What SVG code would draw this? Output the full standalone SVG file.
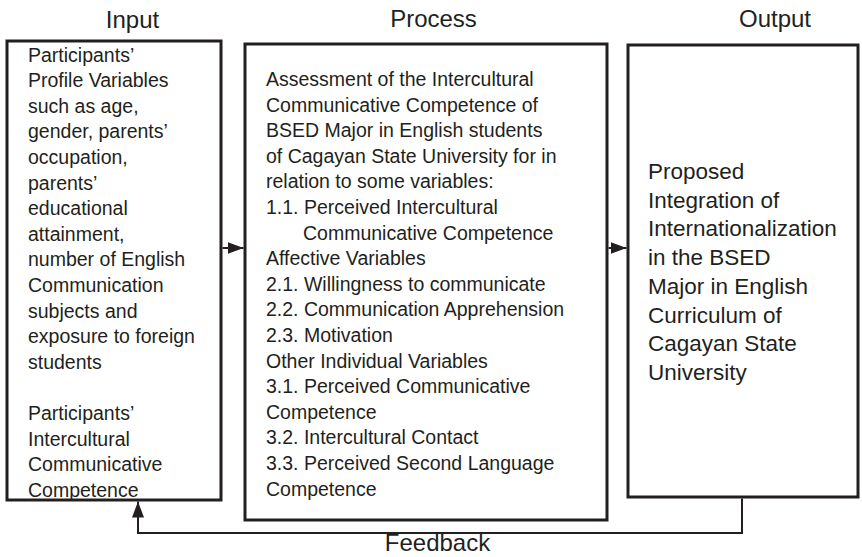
<svg xmlns="http://www.w3.org/2000/svg" width="862" height="557" viewBox="0 0 862 557">
<style>
.box{fill:#fff;stroke:#231f20;stroke-width:3}
.t{font-family:"Liberation Sans",Arial,sans-serif;font-size:19.5px;fill:#231f20}
.o{font-family:"Liberation Sans",Arial,sans-serif;font-size:22.5px;fill:#231f20}
.h{font-family:"Liberation Sans",Arial,sans-serif;font-size:24px;fill:#231f20;text-anchor:middle}
.c{fill:none;stroke:#231f20;stroke-width:2}
</style>
<defs>
<marker id="ah" viewBox="0 0 16 12" refX="16" refY="6" markerWidth="16" markerHeight="12" markerUnits="userSpaceOnUse" orient="auto">
<path d="M0,0 L16,6 L0,12 z" fill="#231f20"/>
</marker>
</defs>
<rect width="862" height="557" fill="#fff"/>
<text class="h" x="132.5" y="28">Input</text>
<text class="h" x="433.5" y="27">Process</text>
<text class="h" x="775" y="27">Output</text>
<text class="h" x="437.5" y="551">Feedback</text>
<g id="input">
<rect class="box" x="7" y="41" width="214" height="459"/>
<text class="t" x="28" y="61.5">Participants’</text>
<text class="t" x="28" y="87.1">Profile Variables</text>
<text class="t" x="28" y="112.7">such as age,</text>
<text class="t" x="28" y="138.3">gender, parents’</text>
<text class="t" x="28" y="163.9">occupation,</text>
<text class="t" x="28" y="189.5">parents’</text>
<text class="t" x="28" y="215.1">educational</text>
<text class="t" x="28" y="240.7">attainment,</text>
<text class="t" x="28" y="266.3">number of English</text>
<text class="t" x="28" y="291.9">Communication</text>
<text class="t" x="28" y="317.5">subjects and</text>
<text class="t" x="28" y="343.1">exposure to foreign</text>
<text class="t" x="28" y="368.7">students</text>
<text class="t" x="28" y="419.9">Participants’</text>
<text class="t" x="28" y="445.5">Intercultural</text>
<text class="t" x="28" y="471.1">Communicative</text>
<text class="t" x="28" y="496.7">Competence</text>
</g>
<g id="process">
<rect class="box" x="245" y="44" width="362" height="476"/>
<text class="t" x="266" y="86">Assessment of the Intercultural</text>
<text class="t" x="266" y="111.6">Communicative Competence of</text>
<text class="t" x="266" y="137.2">BSED Major in English students</text>
<text class="t" x="266" y="162.8">of Cagayan State University for in</text>
<text class="t" x="266" y="188.4">relation to some variables:</text>
<text class="t" x="266" y="214">1.1. Perceived Intercultural</text>
<text class="t" x="303" y="239.6">Communicative Competence</text>
<text class="t" x="266" y="265.2">Affective Variables</text>
<text class="t" x="266" y="290.8">2.1. Willingness to communicate</text>
<text class="t" x="266" y="316.4">2.2. Communication Apprehension</text>
<text class="t" x="266" y="342">2.3. Motivation</text>
<text class="t" x="266" y="367.6">Other Individual Variables</text>
<text class="t" x="266" y="393.2">3.1. Perceived Communicative</text>
<text class="t" x="266" y="418.8">Competence</text>
<text class="t" x="266" y="444.4">3.2. Intercultural Contact</text>
<text class="t" x="266" y="470">3.3. Perceived Second Language</text>
<text class="t" x="266" y="495.6">Competence</text>
</g>
<g id="output">
<rect class="box" x="628" y="45" width="230" height="452"/>
<text class="o" x="648" y="179">Proposed</text>
<text class="o" x="648" y="207.7">Integration of</text>
<text class="o" x="648" y="236.4">Internationalization</text>
<text class="o" x="648" y="265.1">in the BSED</text>
<text class="o" x="648" y="293.8">Major in English</text>
<text class="o" x="648" y="322.5">Curriculum of</text>
<text class="o" x="648" y="351.2">Cagayan State</text>
<text class="o" x="648" y="379.9">University</text>
</g>
<g id="connectors">
<path class="c" d="M222.5,248 H243.5" marker-end="url(#ah)"/>
<path class="c" d="M608.5,248 H626.5" marker-end="url(#ah)"/>
<path class="c" d="M742,498.5 V533 H138 V501.5" marker-end="url(#ah)"/>
</g>
</svg>
